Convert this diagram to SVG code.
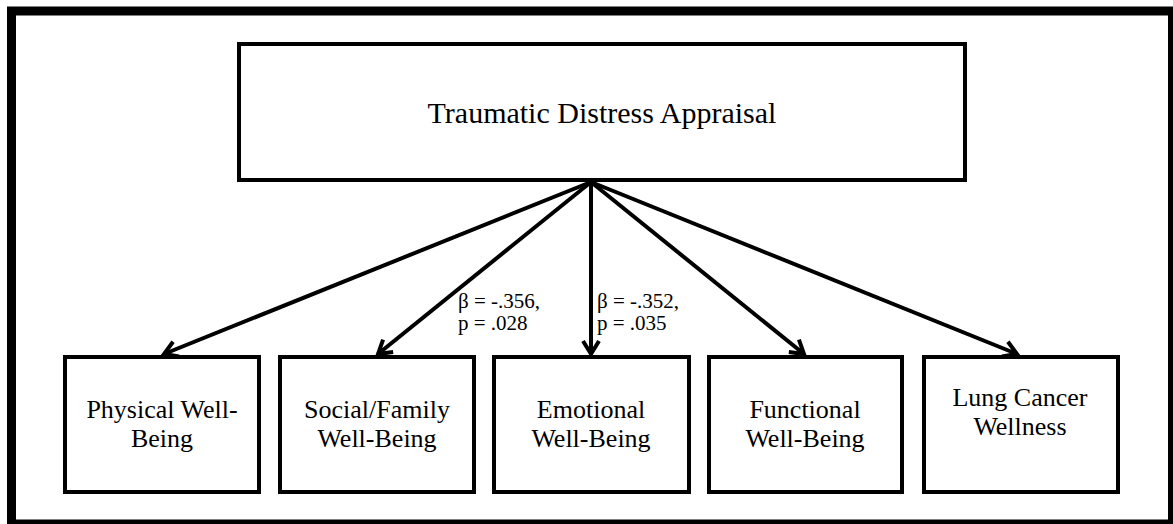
<svg xmlns="http://www.w3.org/2000/svg" width="1173" height="524" viewBox="0 0 1173 524">
<style>
.box{fill:#fff;stroke:#000;stroke-width:4}
.t{font-family:"Liberation Serif","Times New Roman",serif;fill:#000;text-anchor:middle}
.n{font-size:26px}
.lbl{font-family:"Liberation Serif","Times New Roman",serif;font-size:21px;fill:#000}
.c{stroke:#000;stroke-width:4;fill:none;marker-end:url(#ah)}
</style>
<defs>
<marker id="ah" markerUnits="userSpaceOnUse" viewBox="-18 -12 22 24" markerWidth="22" markerHeight="24" refX="0" refY="0" orient="auto">
<path d="M-13,-8 L0,0 L-13,8" fill="none" stroke="#000" stroke-width="4" stroke-linejoin="miter"/>
</marker>
</defs>
<rect x="0" y="0" width="1173" height="524" fill="#fff"/>
<rect x="11.5" y="11" width="1161" height="513" fill="none" stroke="#000" stroke-width="9"/>
<g id="top">
<rect class="box" x="239" y="44" width="726" height="136"/>
<text class="t" x="602" y="123" font-size="30">Traumatic Distress Appraisal</text>
</g>
<g id="physical">
<rect class="box" x="65" y="357" width="194" height="135"/>
<text class="t n" x="162" y="418">Physical Well-</text>
<text class="t n" x="162" y="447">Being</text>
</g>
<g id="social">
<rect class="box" x="280" y="357" width="194" height="135"/>
<text class="t n" x="377" y="418">Social/Family</text>
<text class="t n" x="377" y="447">Well-Being</text>
</g>
<g id="emotional">
<rect class="box" x="494" y="357" width="195" height="135"/>
<text class="t n" x="591" y="418">Emotional</text>
<text class="t n" x="591" y="447">Well-Being</text>
</g>
<g id="functional">
<rect class="box" x="709" y="357" width="193" height="135"/>
<text class="t n" x="805" y="418">Functional</text>
<text class="t n" x="805" y="447">Well-Being</text>
</g>
<g id="lungcancer">
<rect class="box" x="924" y="357" width="194" height="135"/>
<text class="t n" x="1020" y="406">Lung Cancer</text>
<text class="t n" x="1020" y="435">Wellness</text>
</g>
<g id="connectors">
<line class="c" x1="591" y1="182" x2="164" y2="354"/>
<line class="c" x1="591" y1="182" x2="378" y2="354"/>
<line class="c" x1="591" y1="182" x2="591" y2="354"/>
<line class="c" x1="591" y1="182" x2="804" y2="354"/>
<line class="c" x1="591" y1="182" x2="1017" y2="354"/>
<text class="lbl" x="458" y="308">β = -.356,</text>
<text class="lbl" x="458" y="330">p = .028</text>
<text class="lbl" x="597" y="308">β = -.352,</text>
<text class="lbl" x="597" y="330">p = .035</text>
</g>
</svg>
